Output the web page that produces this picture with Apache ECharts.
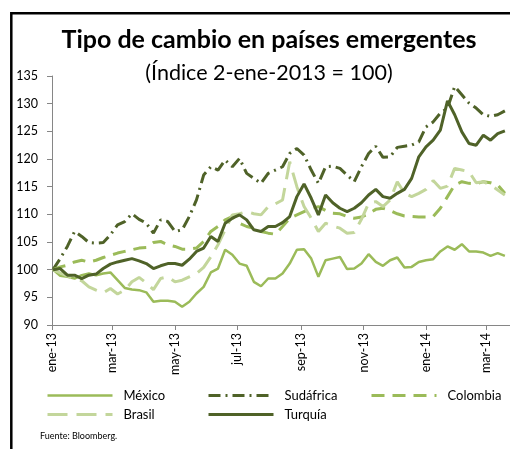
<!DOCTYPE html>
<html><head><meta charset="utf-8">
<script src="https://cdn.jsdelivr.net/npm/echarts@6/dist/echarts.min.js"></script>
<style>html,body{margin:0;padding:0;background:#fff}#c{width:510px;height:449px}</style>
</head><body><div id="c"></div>
<script>
const dates = ['2013-01-02','2013-01-09','2013-01-16','2013-01-23','2013-01-30','2013-02-06','2013-02-13','2013-02-20','2013-02-27','2013-03-06','2013-03-13','2013-03-20','2013-03-27','2013-04-03','2013-04-10','2013-04-17','2013-04-24','2013-05-01','2013-05-08','2013-05-15','2013-05-22','2013-05-29','2013-06-05','2013-06-12','2013-06-19','2013-06-26','2013-07-03','2013-07-10','2013-07-17','2013-07-24','2013-07-31','2013-08-07','2013-08-14','2013-08-21','2013-08-28','2013-09-04','2013-09-11','2013-09-18','2013-09-25','2013-10-02','2013-10-09','2013-10-16','2013-10-23','2013-10-30','2013-11-06','2013-11-13','2013-11-20','2013-11-27','2013-12-04','2013-12-11','2013-12-18','2013-12-25','2014-01-01','2014-01-08','2014-01-15','2014-01-22','2014-01-29','2014-02-05','2014-02-12','2014-02-19','2014-02-26','2014-03-05','2014-03-12','2014-03-19'];
const mexico = [100,98.9,98.7,98.4,99.0,99.3,99.0,99.3,99.5,98.1,96.7,96.4,96.3,95.9,94.2,94.4,94.4,94.2,93.3,94.2,95.7,96.9,99.5,100.2,103.6,102.7,101.1,100.7,97.8,97.0,98.4,98.4,99.3,101.1,103.6,103.7,102.0,98.7,101.7,102.0,102.3,100.1,100.2,101.1,102.8,101.4,100.7,101.7,102.2,100.4,100.5,101.4,101.7,101.9,103.3,104.2,103.6,104.6,103.3,103.3,103.1,102.5,103.0,102.5];
const sudafrica = [100,102.0,104.2,106.9,106.0,104.9,104.8,104.9,106.3,108.1,108.7,110.1,109.1,108.4,106.6,109.0,108.7,106.9,107.2,109.6,112.6,117.1,118.6,118.0,119.8,118.6,120.1,117.4,116.5,115.6,117.4,118.0,118.6,121.0,121.9,120.7,118.0,115.6,118.6,118.7,118.3,117.1,115.9,118.6,121.0,122.3,120.3,120.4,122.1,122.3,122.5,123.1,125.8,126.7,128.3,129.2,133.1,131.6,130.1,129.2,128.0,127.7,128.0,128.7];
const colombia = [100,100.5,100.8,101.4,101.7,101.4,101.7,102.2,102.6,103.0,103.3,103.6,103.9,104.0,104.9,105.1,104.5,104.2,103.7,103.7,103.9,105.1,106.9,107.8,109.0,109.6,108.4,107.8,107.5,106.9,106.6,106.4,107.8,109.3,109.9,110.5,111.1,111.4,110.7,110.2,110.1,109.6,109.3,109.5,110.1,110.9,111.1,110.7,110.1,109.7,109.6,109.5,109.5,109.6,111.1,113.2,115.3,115.9,115.6,115.5,115.9,115.7,115.3,113.8];
const brasil = [100,99.4,98.9,98.3,98.0,96.9,96.3,95.8,96.6,95.6,96.3,97.8,98.6,97.6,96.4,98.4,98.7,97.8,98.1,98.7,99.3,100.4,102.3,104.5,107.2,109.9,110.1,110.5,110.1,109.9,111.4,111.9,112.6,119.5,115.0,111.4,109.3,106.9,108.4,107.9,107.5,106.6,106.7,109.1,112.0,112.3,111.4,112.6,115.9,113.8,113.2,113.8,114.5,116.1,114.7,115.1,118.3,118.0,117.7,115.7,115.9,115.3,114.4,113.5];
const turquia = [100,100.2,99.0,99.0,98.4,99.0,99.2,100.2,101.0,101.4,101.7,102.0,101.6,101.1,100.2,100.7,101.1,101.1,100.8,101.9,103.3,103.9,106.0,105.1,108.4,109.3,109.9,109.0,107.2,106.9,107.8,107.8,108.5,109.6,113.2,115.5,112.9,109.9,113.5,112.1,111.1,110.5,111.1,112.1,113.5,114.5,113.2,112.9,113.8,114.5,116.5,120.4,122.2,123.4,125.2,130.5,128.0,124.9,122.8,122.5,124.3,123.4,124.6,125.1];
const tickDates = ['2013-01-01','2013-03-01','2013-05-01','2013-07-01','2013-09-01','2013-11-01','2014-01-01','2014-03-01'];
const monthNames = ['ene','feb','mar','abr','may','jun','jul','ago','sep','oct','nov','dic'];
const xMin = '2013-01-01', xMax = '2014-03-24';
const yMin = 90, yMax = 135, yStep = 5;

function ts(s){const p=s.split('-');return Date.UTC(+p[0],+p[1]-1,+p[2]);}
function pairs(v){return dates.map((d,i)=>[ts(d),v[i]]);}

const F = 'Lato';
const chart = echarts.init(document.getElementById('c'));
const axisColor = '#868686';
function mkSeries(name, data, color, width, type){
  return {name, type:'line', data:pairs(data), symbol:'none', smooth:false,
    lineStyle:{color, width, type}, itemStyle:{color}, emphasis:{disabled:true}};
}
const legendBase = {orient:'vertical', top:389, itemWidth:65, itemHeight:14, itemGap:6,
  textStyle:{fontFamily:F, fontSize:13, color:'#000', padding:[0,0,0,6]}, padding:0,
  itemStyle:{opacity:0}, lineStyle:{width:'inherit'}};
chart.setOption({
  animation:false,
  textStyle:{fontFamily:F},
  title:[
    {text:'Tipo de cambio en países emergentes', left:269, top:27, textAlign:'center', padding:0,
     textStyle:{fontFamily:F, fontWeight:'bold', fontSize:25, color:'#000'}},
    {text:'(Índice 2-ene-2013 = 100)', left:269, top:62, textAlign:'center', padding:0,
     textStyle:{fontFamily:F, fontWeight:'normal', fontSize:21.5, color:'#000'}}
  ],
  legend:[
    Object.assign({}, legendBase, {left:46, data:['México','Brasil']}),
    Object.assign({}, legendBase, {left:207, data:['Sudáfrica','Turquía']}),
    Object.assign({}, legendBase, {left:370, data:['Colombia']})
  ],
  grid:{left:52, right:0, top:76, bottom:124, containLabel:false, outerBoundsMode:'none'},
  xAxis:{type:'value', min:ts(xMin), max:ts(xMax),
    axisLine:{lineStyle:{color:axisColor, width:1}},
    axisTick:{show:true, length:5, lineStyle:{color:axisColor}, customValues:tickDates.map(ts)},
    axisLabel:{rotate:90, margin:8, fontFamily:F, fontSize:12.5, color:'#000', customValues:tickDates.map(ts),
      formatter:function(v){const d=new Date(v);return monthNames[d.getUTCMonth()]+'-'+String(d.getUTCFullYear()).slice(2);}},
    splitLine:{show:false}},
  yAxis:{type:'value', min:yMin, max:yMax, interval:yStep,
    axisLine:{show:true, lineStyle:{color:axisColor, width:1}},
    axisTick:{show:true, length:5, lineStyle:{color:axisColor}},
    axisLabel:{margin:14, fontFamily:F, fontSize:12.5, color:'#000'},
    splitLine:{show:false}},
  series:[
    mkSeries('México', mexico, '#9BBB59', 2.5, 'solid'),
    mkSeries('Sudáfrica', sudafrica, '#4F6228', 3, [12,5,2,5]),
    mkSeries('Colombia', colombia, '#9BBB59', 3, [13,8]),
    mkSeries('Brasil', brasil, '#C3D69B', 3, [20,9]),
    mkSeries('Turquía', turquia, '#4F6228', 3, 'solid')
  ],
  graphic:[
    {type:'rect', shape:{x:11.3, y:13.3, width:700, height:700}, style:{fill:'none', stroke:'#000', lineWidth:2.5}, silent:true},
    {type:'text', left:40, top:432, style:{text:'Fuente: Bloomberg.', font:'9px Lato', fill:'#000'}}
  ]
});
</script></body></html>
